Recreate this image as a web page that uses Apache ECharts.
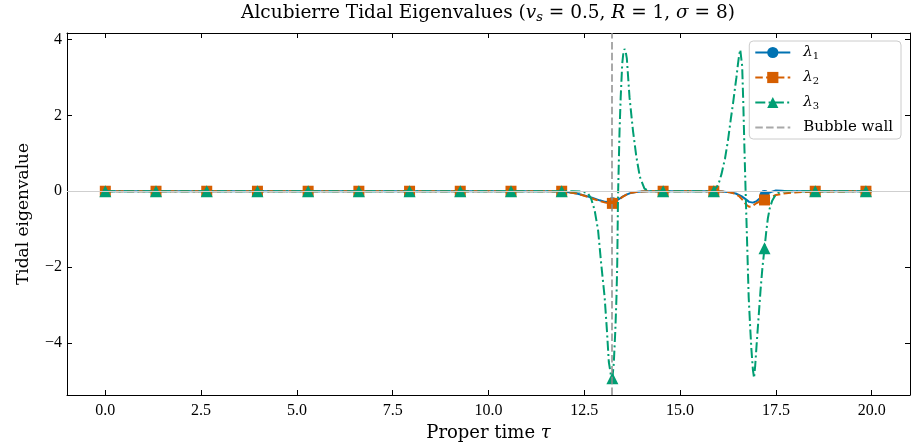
<!DOCTYPE html>
<html><head><meta charset="utf-8">
<script src="https://cdn.jsdelivr.net/npm/echarts@6/dist/echarts.min.js"></script>
<style>html,body{margin:0;padding:0;background:#fff}#c{width:911px;height:448px}</style>
</head><body><div id="c"></div>
<script>
const FONT = '"Liberation Serif", "DejaVu Serif", serif';
const TFONT = '"DejaVu Serif", "Liberation Serif", serif';

// Axis ticks
const xTicks = [0, 2.5, 5, 7.5, 10, 12.5, 15, 17.5, 20];
const yTicks = [-4, -2, 0, 2, 4];
const xRange = [-1, 21];
const yRange = [-5.37, 4.17];

// Bubble wall location (proper time)
const wallTau = 13.21;

// Marker positions (every ~1.32 in tau) and marker values per series
const markerTau = [0, 1.323, 2.647, 3.97, 5.293, 6.617, 7.94, 9.263, 10.587, 11.91, 13.233, 14.557, 15.88, 17.203, 18.527, 19.85];
const lambda1Markers = [0, 0, 0, 0, 0, 0, 0, 0, 0, 0, -0.29, 0, 0, -0.1, 0, 0];
const lambda2Markers = [0, 0, 0, 0, 0, 0, 0, 0, 0, 0, -0.32, 0, 0, -0.23, 0, 0];
const lambda3Markers = [0, 0, 0, 0, 0, 0, 0, 0, 0, 0, -4.93, 0, 0, -1.5, 0, 0];

// lambda_1 curve
const tau1 = [0, 11.6, 11.9, 12.1, 12.3, 12.5, 12.7, 12.9, 13.05, 13.15, 13.3, 13.4, 13.5, 13.6, 13.7, 13.85, 14.0, 14.2,
  15.8, 16.1, 16.3, 16.45, 16.6, 16.7, 16.8, 16.9, 17.0, 17.1, 17.3, 17.4, 17.5, 17.65, 17.8, 20];
const lambda1 = [0, 0, -0.01, -0.03, -0.06, -0.11, -0.17, -0.24, -0.28, -0.29, -0.27, -0.21, -0.14, -0.09, -0.05, -0.02, -0.01, 0,
  0, -0.01, -0.03, -0.06, -0.13, -0.2, -0.28, -0.3, -0.26, -0.17, -0.05, -0.01, 0.02, 0.01, 0, 0];

// lambda_2 curve
const tau2 = [0, 11.6, 11.9, 12.1, 12.3, 12.5, 12.7, 12.9, 13.05, 13.15, 13.3, 13.4, 13.5, 13.6, 13.7, 13.85, 14.0, 14.2,
  15.8, 16.1, 16.3, 16.45, 16.55, 16.65, 16.72, 16.8, 16.88, 17.0, 17.1, 17.35, 17.5, 17.7, 17.9, 18.2, 18.5, 20];
const lambda2 = [0, 0, -0.01, -0.03, -0.06, -0.12, -0.19, -0.26, -0.3, -0.32, -0.29, -0.22, -0.15, -0.09, -0.05, -0.02, -0.01, 0,
  0, -0.01, -0.03, -0.07, -0.14, -0.25, -0.35, -0.41, -0.39, -0.31, -0.26, -0.16, -0.1, -0.06, -0.04, -0.02, -0.01, 0];

// lambda_3 curve
const tau3 = [0, 12.2, 12.4, 12.5, 12.6, 12.68, 12.77, 12.86, 12.94, 13.03, 13.09, 13.14, 13.19,
  13.27, 13.31, 13.34, 13.36, 13.37, 13.38, 13.40, 13.42, 13.45, 13.49, 13.52, 13.55, 13.58, 13.61, 13.68, 13.77, 13.86, 13.95, 14.07, 14.2,
  15.8, 15.9, 16.0, 16.08, 16.17, 16.25, 16.33, 16.38, 16.43, 16.47, 16.51, 16.54, 16.57, 16.6, 16.62, 16.65, 16.68, 16.71, 16.74, 16.79,
  16.83, 16.86, 16.9, 16.93, 16.96, 17.0, 17.05, 17.1, 17.15, 17.25, 17.29, 17.34, 17.4, 17.47, 17.55, 17.65, 17.75, 20];
const lambda3 = [0, 0, -0.01, -0.02, -0.06, -0.2, -0.5, -1.03, -1.9, -2.78, -3.66, -4.5, -4.82,
  -4.53, -3.66, -2.78, -1.9, -1.03, -0.15, 0.73, 1.6, 2.48, 3.36, 3.65, 3.75, 3.68, 3.5, 2.48, 1.6, 0.9, 0.38, 0.07, 0,
  0, 0.03, 0.18, 0.45, 0.85, 1.34, 1.95, 2.3, 2.7, 3.0, 3.35, 3.58, 3.73, 3.7, 3.3, 2.3, 1.1, 0.0, -1.03, -2.79,
  -3.6, -4.15, -4.7, -4.92, -4.6, -4.0, -3.3, -2.6, -2.0, -1.05, -0.72, -0.45, -0.26, -0.13, -0.05, -0.01, 0, 0];

const COLORS = { l1: '#0072B2', l2: '#D55E00', l3: '#009E73', wall: 'rgba(140,140,140,0.75)' };

function buildData(tauArr, valArr, mTau, mVal) {
  const pts = tauArr.map((t, i) => ({ value: [t, valArr[i]], symbol: 'none' }));
  mTau.forEach((t, i) => pts.push({ value: [t, mVal[i]] }));
  pts.sort((a, b) => a.value[0] - b.value[0]);
  return pts;
}

const minus = v => (v < 0 ? '\u2212' + Math.abs(v) : String(v));

function xAxisDef(pos, labels) {
  return {
    type: 'value', position: pos, min: xRange[0], max: xRange[1],
    axisLine: { show: true, onZero: false, lineStyle: { color: '#000', width: 1 } },
    axisTick: { show: true, inside: true, length: 5, customValues: xTicks, lineStyle: { color: '#000', width: 1 } },
    axisLabel: { show: labels, customValues: xTicks, formatter: v => v.toFixed(1), fontFamily: FONT, fontSize: 16, color: '#000', margin: 8 },
    splitLine: { show: false },
    name: labels ? 'Proper time {i|τ}' : '', nameLocation: 'middle', nameGap: 28,
    nameTextStyle: { fontFamily: TFONT, fontSize: 18, color: '#000', rich: { i: { fontFamily: TFONT, fontSize: 18, fontStyle: 'italic', color: '#000' } } }
  };
}
function yAxisDef(pos, labels) {
  return {
    type: 'value', position: pos, min: yRange[0], max: yRange[1],
    axisLine: { show: true, onZero: false, lineStyle: { color: '#000', width: 1 } },
    axisTick: { show: true, inside: true, length: 5, customValues: yTicks, lineStyle: { color: '#000', width: 1 } },
    axisLabel: { show: labels, customValues: yTicks, formatter: minus, fontFamily: FONT, fontSize: 16, color: '#000', margin: 5 },
    splitLine: { show: false },
    name: labels ? 'Tidal eigenvalue' : '', nameLocation: 'middle', nameGap: 35,
    nameTextStyle: { fontFamily: TFONT, fontSize: 17, color: '#000' }
  };
}

const chart = echarts.init(document.getElementById('c'), null, { renderer: 'canvas' });
chart.setOption({
  animation: false,
  backgroundColor: '#fff',
  grid: { left: 67, right: 1, top: 33, bottom: 53, containLabel: false },
  graphic: [{
    type: 'text', x: 488, y: 3, z: 100,
    style: {
      text: 'Alcubierre Tidal Eigenvalues ({i|v}{s|s} = 0.5, {i|R} = 1, {i|σ} = 8)',
      fontFamily: TFONT, fontSize: 18.5, fill: '#000', align: 'center', textAlign: 'center',
      rich: {
        i: { fontFamily: TFONT, fontSize: 18.5, fontStyle: 'italic', fill: '#000' },
        s: { fontFamily: TFONT, fontSize: 13, fontStyle: 'italic', fill: '#000', padding: [8, 0, 0, 0] }
      }
    }
  }],
  xAxis: [xAxisDef('bottom', true), xAxisDef('top', false)],
  yAxis: [yAxisDef('left', true), yAxisDef('right', false)],
  legend: {
    data: ['λ1', 'λ2', 'λ3', { name: 'Bubble wall', itemStyle: { opacity: 0 } }],
    orient: 'vertical', right: 10, top: 41,
    itemWidth: 35, itemHeight: 14, itemGap: 9,
    padding: [4, 8, 4, 5],
    backgroundColor: 'rgba(255,255,255,0.85)', borderColor: '#cccccc', borderWidth: 1, borderRadius: 4,
    formatter: name => (name === 'Bubble wall' ? name : '{i|λ}{s|' + name.slice(1) + '}'),
    textStyle: {
      fontFamily: TFONT, fontSize: 15, color: '#000', padding: [0, 0, 0, 8],
      rich: {
        i: { fontFamily: TFONT, fontSize: 15, fontStyle: 'italic', color: '#000' },
        s: { fontFamily: TFONT, fontSize: 10, color: '#000', padding: [7, 0, 0, 0] }
      }
    }
  },
  series: [
    {
      type: 'line', name: 'zero', data: [], silent: true, z: 1,
      markLine: { silent: true, symbol: 'none', label: { show: false },
        lineStyle: { color: '#cfcfcf', width: 1, type: 'solid' }, data: [{ yAxis: 0 }] }
    },
    {
      type: 'line', name: 'λ1', data: buildData(tau1, lambda1, markerTau, lambda1Markers),
      symbol: 'circle', symbolSize: 10, showSymbol: true,
      lineStyle: { color: COLORS.l1, width: 2 }, itemStyle: { color: COLORS.l1 }, z: 2
    },
    {
      type: 'line', name: 'λ2', data: buildData(tau2, lambda2, markerTau, lambda2Markers),
      symbol: 'rect', symbolSize: 11, showSymbol: true,
      lineStyle: { color: COLORS.l2, width: 2, type: [7.5, 3.3] }, itemStyle: { color: COLORS.l2 }, z: 3
    },
    {
      type: 'line', name: 'λ3', data: buildData(tau3, lambda3, markerTau, lambda3Markers),
      symbol: 'triangle', symbolSize: 12, showSymbol: true,
      lineStyle: { color: COLORS.l3, width: 2, type: [10, 3.3, 2, 3.3] }, itemStyle: { color: COLORS.l3 }, z: 4
    },
    {
      type: 'line', name: 'Bubble wall', data: [], symbol: 'none', z: 5,
      lineStyle: { color: COLORS.wall, width: 2, type: [7.5, 3.3] }, itemStyle: { color: COLORS.wall },
      markLine: { silent: true, symbol: 'none', label: { show: false },
        lineStyle: { color: COLORS.wall, width: 2, type: [7.5, 3.3] }, data: [{ xAxis: wallTau }] }
    }
  ]
});
</script></body></html>
